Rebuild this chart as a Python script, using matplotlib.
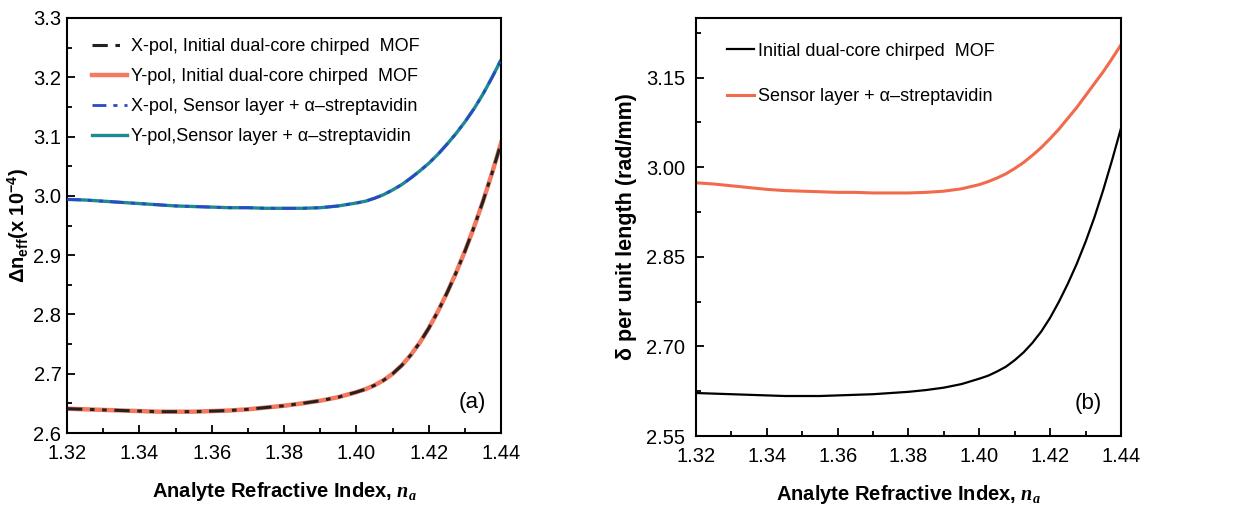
import numpy as np
import matplotlib
matplotlib.use('Agg')
import matplotlib.pyplot as plt
from matplotlib.ticker import MultipleLocator

plt.rcParams['font.family'] = ['Liberation Sans', 'DejaVu Sans']
plt.rcParams['mathtext.fontset'] = 'custom'
plt.rcParams['mathtext.rm'] = 'Liberation Sans'
plt.rcParams['mathtext.bf'] = 'Liberation Sans:bold'
plt.rcParams['mathtext.it'] = 'Liberation Serif:bold:italic'

### ANALYTE REFRACTIVE INDEX (finer steps where the curves bend up)
n_a = [1.320, 1.325, 1.330, 1.335, 1.340, 1.345, 1.350, 1.355, 1.360, 1.365,
       1.370, 1.375, 1.380, 1.385, 1.390, 1.395,
       1.4000, 1.4025, 1.4050, 1.4075, 1.4100, 1.4125, 1.4150, 1.4175, 1.4200,
       1.4225, 1.4250, 1.4275, 1.4300, 1.4325, 1.4350, 1.4375, 1.4400]

### (a) BIREFRINGENCE, x 1e-4
dn_x_initial = [2.641, 2.640, 2.639, 2.638, 2.637, 2.636, 2.636, 2.636, 2.637, 2.638,
                2.640, 2.643, 2.646, 2.650, 2.6545, 2.6605,
                2.669, 2.674, 2.6805, 2.689, 2.700, 2.714, 2.7315, 2.7525, 2.777,
                2.805, 2.836, 2.870, 2.907, 2.9475, 2.9915, 3.039, 3.090]
dn_y_initial = [2.641, 2.640, 2.639, 2.638, 2.637, 2.636, 2.636, 2.636, 2.637, 2.638,
                2.640, 2.643, 2.646, 2.650, 2.6545, 2.6605,
                2.669, 2.674, 2.6805, 2.689, 2.700, 2.714, 2.7315, 2.7525, 2.777,
                2.805, 2.836, 2.870, 2.907, 2.9475, 2.9915, 3.039, 3.090]
dn_x_sensor = [2.994, 2.993, 2.991, 2.989, 2.987, 2.985, 2.983, 2.982, 2.981, 2.980,
               2.980, 2.979, 2.979, 2.979, 2.980, 2.983,
               2.988, 2.991, 2.996, 3.002, 3.010, 3.019, 3.030, 3.042, 3.055,
               3.070, 3.087, 3.105, 3.125, 3.147, 3.172, 3.200, 3.230]
dn_y_sensor = [2.994, 2.993, 2.991, 2.989, 2.987, 2.985, 2.983, 2.982, 2.981, 2.980,
               2.980, 2.979, 2.979, 2.979, 2.980, 2.983,
               2.988, 2.991, 2.996, 3.002, 3.010, 3.019, 3.030, 3.042, 3.055,
               3.070, 3.087, 3.105, 3.125, 3.147, 3.172, 3.200, 3.230]

### (b) PHASE DIFFERENCE PER UNIT LENGTH, rad/mm
delta_initial = [2.622, 2.621, 2.620, 2.619, 2.618, 2.617, 2.617, 2.617, 2.618, 2.619,
                 2.620, 2.622, 2.624, 2.627, 2.631, 2.637,
                 2.646, 2.651, 2.658, 2.666, 2.677, 2.690, 2.706, 2.725, 2.748,
                 2.775, 2.805, 2.838, 2.875, 2.916, 2.962, 3.012, 3.065]
delta_sensor = [2.974, 2.972, 2.969, 2.966, 2.963, 2.961, 2.960, 2.959, 2.958, 2.958,
                2.957, 2.957, 2.957, 2.958, 2.960, 2.964,
                2.971, 2.976, 2.982, 2.989, 2.998, 3.008, 3.020, 3.033, 3.048,
                3.064, 3.082, 3.100, 3.120, 3.140, 3.160, 3.182, 3.205]

xlabel = r'Analyte Refractive Index, $\mathit{n}_\mathit{a}$'
dash_dot_dot = (5, 2.5, 1.5, 2.5, 1.5, 2.5)


def style_axes(ax, ypad):
    for sp in ax.spines.values():
        sp.set_linewidth(1.5)
    ax.tick_params(which='both', direction='in', top=False, right=False,
                   labelsize=14.5, width=1.3)
    ax.tick_params(which='major', length=6)
    ax.tick_params(which='minor', length=3.5)
    ax.tick_params(axis='x', pad=8)
    ax.tick_params(axis='y', pad=ypad)
    ax.set_xlim(1.32, 1.44)
    ax.xaxis.set_major_locator(MultipleLocator(0.02))
    ax.xaxis.set_minor_locator(MultipleLocator(0.01))
    ax.xaxis.set_major_formatter(plt.FormatStrFormatter('%.2f'))
    ax.set_xlabel(xlabel, fontsize=14.5, fontweight='bold', labelpad=12)


fig = plt.figure(figsize=(12.53, 5.08), dpi=100)
ax_a = fig.add_axes((0.0535, 0.1476, 0.3465, 0.817))
ax_b = fig.add_axes((0.5555, 0.1417, 0.3391, 0.8229))

## Panel (a)
ax_a.plot(n_a, dn_y_initial, color='#f37a5f', lw=3.2, label='Y-pol, Initial dual-core chirped  MOF', zorder=2)
ax_a.plot(n_a, dn_x_initial, color='#222222', lw=2.2, dashes=dash_dot_dot,
          label='X-pol, Initial dual-core chirped  MOF', zorder=3)
ax_a.plot(n_a, dn_y_sensor, color='#1c8c8e', lw=2.4, label='Y-pol,Sensor layer + \u03b1\u2013streptavidin', zorder=2)
ax_a.plot(n_a, dn_x_sensor, color='#2a48c8', lw=2.0, dashes=dash_dot_dot,
          label='X-pol, Sensor layer + \u03b1\u2013streptavidin', zorder=3)
style_axes(ax_a, 4)
ax_a.set_ylim(2.6, 3.3)
ax_a.yaxis.set_major_locator(MultipleLocator(0.1))
ax_a.yaxis.set_minor_locator(MultipleLocator(0.05))
ax_a.yaxis.set_major_formatter(plt.FormatStrFormatter('%.1f'))
ax_a.set_ylabel(r'$\mathbf{\Delta n_{eff}(x\ 10^{-4})}$', fontsize=14.5, labelpad=2)
h, l = ax_a.get_legend_handles_labels()
order = [1, 0, 3, 2]
ax_a.legend([h[i] for i in order], [l[i] for i in order], loc='upper left', frameon=False,
            fontsize=13, handlelength=1.95, handletextpad=0.2, labelspacing=0.72,
            borderaxespad=0.5, bbox_to_anchor=(0.02, 0.99))
ax_a.text(1.432, 2.651, '(a)', fontsize=16, ha='center', va='center')

## Panel (b)
ax_b.plot(n_a, delta_initial, color='black', lw=1.6, label='Initial dual-core chirped  MOF')
ax_b.plot(n_a, delta_sensor, color='#f26a4c', lw=2.2, label='Sensor layer + \u03b1\u2013streptavidin')
style_axes(ax_b, 8)
ax_b.set_ylim(2.55, 3.25)
ax_b.yaxis.set_major_locator(MultipleLocator(0.15))
ax_b.yaxis.set_minor_locator(MultipleLocator(0.075))
ax_b.yaxis.set_major_formatter(plt.FormatStrFormatter('%.2f'))
ax_b.set_ylabel('\u03b4 per unit length (rad/mm)', fontsize=15.5, fontweight='bold', labelpad=6)
ax_b.legend(loc='upper left', frameon=False, fontsize=13, handlelength=1.5,
            handletextpad=0.2, labelspacing=1.6, bbox_to_anchor=(0.035, 0.98))
ax_b.text(1.4307, 2.605, '(b)', fontsize=16, ha='center', va='center')

fig.savefig('out.png', dpi=100)
